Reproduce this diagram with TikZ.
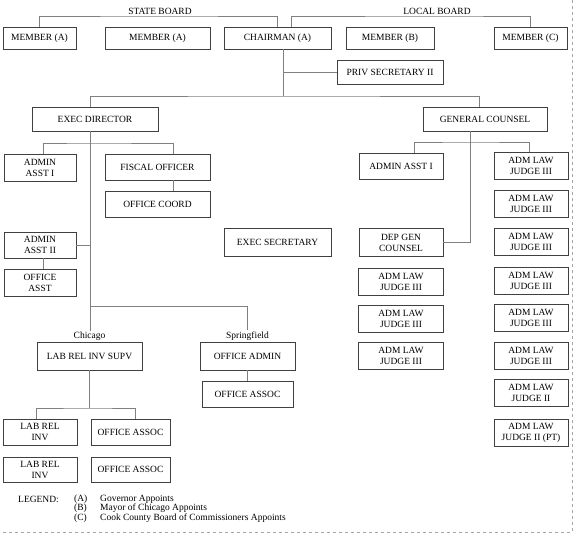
\documentclass[tikz,border=0pt]{standalone}
\usepackage{fontspec}
\setmainfont{Liberation Serif}
\usetikzlibrary{positioning}
\begin{document}
\begin{tikzpicture}[
    x=1pt,y=-1pt,
    box/.style={draw=black!75,line width=0.8pt,minimum height=26pt,inner sep=1pt,align=center,font=\fontsize{9.5}{11}\selectfont},
    lbl/.style={inner sep=1pt,font=\fontsize{9.5}{11}\selectfont},
    link/.style={draw=black!50,line width=0.7pt},
    frame/.style={draw=black!35,dashed,line width=0.6pt}
]
\useasboundingbox (0,0) rectangle (575,535);
\node[box,minimum width=73pt,minimum height=22pt] (mema) at (39.5,38) {MEMBER (A)};
\node[box,minimum width=105pt,minimum height=22pt] (memaa) at (157.5,38) {MEMBER (A)};
\node[box,minimum width=107pt,minimum height=22pt] (chair) at (277.5,38) {CHAIRMAN (A)};
\node[box,minimum width=88pt,minimum height=22pt] (memb) at (390,38) {MEMBER (B)};
\node[box,minimum width=73pt,minimum height=22pt] (memc) at (530.5,38) {MEMBER (C)};
\node[box,minimum width=106pt,minimum height=24pt] (priv) at (390,72) {PRIV SECRETARY II};
\node[box,minimum width=126pt,minimum height=24pt] (exec) at (95,119) {EXEC DIRECTOR};
\node[box,minimum width=124pt,minimum height=24pt] (gc) at (485,119) {GENERAL COUNSEL};

\node[box,minimum width=72pt,minimum height=27pt] (aa1) at (40,167.5) {ADMIN\\ASST I};
\node[box,minimum width=105pt] (fisc) at (157.5,167) {FISCAL OFFICER};
\node[box,minimum width=105pt] (coord) at (157.5,204) {OFFICE COORD};
\node[box,minimum width=72pt] (aa2) at (40,245) {ADMIN\\ASST II};
\node[box,minimum width=72pt,minimum height=27pt] (oasst) at (40,282.5) {OFFICE\\ASST};
\node[box,minimum width=107pt,minimum height=28pt] (esec) at (277.5,242.5) {EXEC SECRETARY};
\node[box,minimum width=105pt,minimum height=28pt] (supv) at (89.5,356) {LAB REL INV SUPV};
\node[lbl,above=0pt of supv] (chi) {Chicago};
\node[box,minimum width=95pt,minimum height=28pt] (oadm) at (247.5,356) {OFFICE ADMIN};
\node[lbl,above=0pt of oadm] (spr) {Springfield};
\node[box,minimum width=91pt] (oassoc) at (247.5,394) {OFFICE ASSOC};
\node[box,minimum width=74pt] (lri) at (40,432) {LAB REL\\INV};
\node[box,minimum width=79pt] (oa) at (130.5,432) {OFFICE ASSOC};
\node[box,minimum width=74pt,minimum height=25pt] (lrii) at (40,469.5) {LAB REL\\INV};
\node[box,minimum width=79pt,minimum height=25pt] (oaa) at (130.5,469.5) {OFFICE ASSOC};

\node[box,minimum width=84pt] (aar) at (401,166) {ADMIN ASST I};
\node[box,minimum width=84pt,minimum height=28pt] (dgc) at (401,242.5) {DEP GEN\\COUNSEL};
\foreach \y [count=\i] in {281.5,319,355.5}
  \node[box,minimum width=85pt,minimum height=27pt] (jl\i) at (401,\y) {ADM LAW\\JUDGE III};
\foreach \y/\lvl [count=\i] in {166/III,203.5/III,242/III,280.5/III,318/III,355.5/III,393/II,432.5/II (PT)}
  \node[box,minimum width=74pt,minimum height=27pt] (jr\i) at (531,\y) {ADM LAW\\JUDGE \lvl};

\coordinate (sb) at (160,16);
\coordinate (lb) at (437,16);
\node[lbl,above] (sbl) at (sb) {STATE BOARD};
\node[lbl,above] (lbl) at (lb) {LOCAL BOARD};
\draw[link] (mema.north) |- (sb) -| (chair.north);
\draw[link] ([xshift=13.5pt]chair.north) |- (lb) -| (memc.north);

\coordinate (hub) at (283,96);
\draw[link] ([xshift=5.5pt]chair.south) -- (hub);
\draw[link] (priv.west) -- (priv.west -| hub);
\draw[link] ([xshift=-5pt]exec.north) |- (hub) -| ([xshift=-6pt]gc.north);

\coordinate (split) at (90,306);
\coordinate (ex) at (90,143);
\draw[link] ([xshift=-5pt]exec.south) -- (split) -| (spr.north);
\draw[link] (split) -- (split |- chi.north);
\draw[link] ([xshift=3pt]aa1.north) |- (ex) -| ([xshift=15.5pt]fisc.north);
\draw[link] ([xshift=15.5pt]fisc.south) -- ([xshift=15.5pt]coord.north);
\draw[link] (aa2.east) -- (aa2.east -| split);
\draw[link] ([xshift=3pt]aa2.south) -- ([xshift=3pt]oasst.north);

\coordinate (chs) at (89.5,408);
\draw[link] (supv.south) -- (chs);
\draw[link] ([xshift=-4pt]lri.north) |- (chs) -| ([xshift=4.5pt]oa.north);
\draw[link] (oadm.south) -- (oassoc.north);

\coordinate (gk) at (470,142);
\draw[link] ([xshift=-15pt]gc.south) |- (dgc.east);
\draw[link] ([xshift=13pt]aar.north) |- (gk) -| ([xshift=-2pt]jr1.north);

\node[lbl,anchor=west] (leg) at (17,499) {LEGEND:};
\foreach \k/\txt [count=\i] in {A/Governor Appoints,B/Mayor of Chicago Appoints,C/Cook County Board of Commissioners Appoints}{
  \node[lbl,anchor=west] (key\k) at (73,489.5+9.5*\i) {(\k)};
  \node[lbl,anchor=west] (txt\k) at (99,489.5+9.5*\i) {\txt};
}

\draw[frame] (572,0) -- (572,532) -- (0,532);
\end{tikzpicture}
\end{document}
